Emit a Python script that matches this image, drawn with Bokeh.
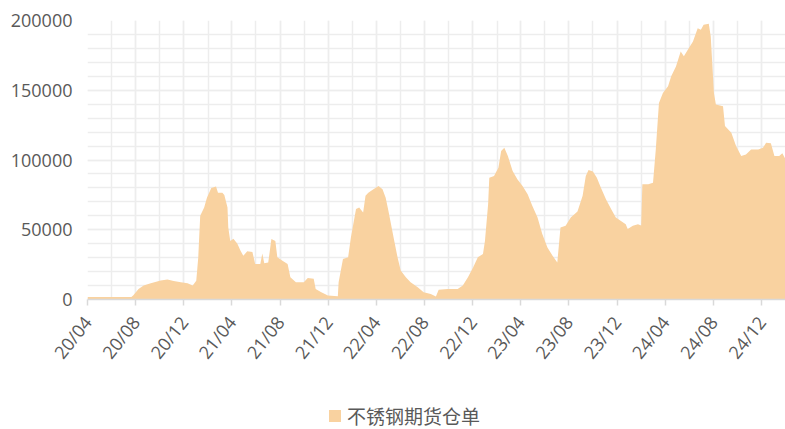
import pandas as pd
from bokeh.plotting import figure
from bokeh.layouts import column
from bokeh.models import (FixedTicker, SingleIntervalTicker, Range1d, Legend,
                          LegendItem, NumeralTickFormatter, ColumnDataSource)
from bokeh.embed import file_html
from bokeh.resources import INLINE

series_name = "不锈钢期货仓单"

dates = [
    "2020-04-01", "2020-07-21", "2020-07-26", "2020-08-08", "2020-08-21", "2020-09-08",
    "2020-10-03", "2020-10-20", "2020-11-05", "2020-11-23", "2020-12-10", "2020-12-23",
    "2021-01-01", "2021-01-06", "2021-01-11", "2021-01-21", "2021-01-28", "2021-02-08",
    "2021-02-20", "2021-02-25", "2021-03-08", "2021-03-13", "2021-03-21", "2021-03-23",
    "2021-03-28", "2021-04-05", "2021-04-15", "2021-04-23", "2021-04-30", "2021-05-10",
    "2021-05-23", "2021-05-30", "2021-06-12", "2021-06-17", "2021-06-22", "2021-07-02",
    "2021-07-10", "2021-07-20", "2021-07-25", "2021-08-07", "2021-08-20", "2021-08-27",
    "2021-09-10", "2021-09-30", "2021-10-10", "2021-10-25", "2021-10-30", "2021-11-12",
    "2021-11-30", "2021-12-25", "2021-12-27", "2022-01-07", "2022-01-20", "2022-01-27",
    "2022-02-09", "2022-02-17", "2022-02-27", "2022-03-05", "2022-03-12", "2022-03-25",
    "2022-04-07", "2022-04-17", "2022-04-25", "2022-05-02", "2022-05-15", "2022-05-25",
    "2022-06-02", "2022-06-15", "2022-06-27", "2022-07-15", "2022-07-30", "2022-08-17",
    "2022-08-30", "2022-09-06", "2022-09-29", "2022-10-24", "2022-11-06", "2022-11-19",
    "2022-12-02", "2022-12-14", "2022-12-27", "2023-01-01", "2023-01-09", "2023-01-12",
    "2023-01-24", "2023-02-04", "2023-02-11", "2023-02-19", "2023-02-28", "2023-03-12",
    "2023-03-24", "2023-04-06", "2023-04-19", "2023-05-01", "2023-05-14", "2023-05-26",
    "2023-06-08", "2023-06-21", "2023-07-03", "2023-07-11", "2023-07-24", "2023-08-06",
    "2023-08-23", "2023-09-05", "2023-09-13", "2023-09-20", "2023-10-01", "2023-10-11",
    "2023-10-21", "2023-11-03", "2023-11-16", "2023-11-28", "2023-12-10", "2023-12-23",
    "2023-12-28", "2024-01-10", "2024-01-23", "2024-01-31", "2024-02-03", "2024-02-18",
    "2024-03-01", "2024-03-08", "2024-03-16", "2024-03-26", "2024-04-08", "2024-04-16",
    "2024-04-28", "2024-05-10", "2024-05-18", "2024-05-28", "2024-06-10", "2024-06-22",
    "2024-06-30", "2024-07-07", "2024-07-20", "2024-07-25", "2024-08-02", "2024-08-07",
    "2024-08-25", "2024-08-30", "2024-09-15", "2024-09-27", "2024-10-10", "2024-10-22",
    "2024-11-04", "2024-11-22", "2024-12-04", "2024-12-12", "2024-12-24", "2025-01-02",
    "2025-01-14", "2025-01-22", "2025-01-30",
]

values = [
    1800, 1800, 3000, 7600, 10000, 11600,
    13600, 14300, 13200, 12400, 11600, 10000,
    13500, 30000, 60000, 66000, 73000, 80000,
    81000, 76600, 76600, 75000, 66000, 51600,
    42000, 43500, 40000, 35000, 31400, 34500,
    34000, 25500, 25500, 33000, 26000, 26500,
    43300, 42000, 30200, 27800, 25500, 16000,
    12400, 12400, 15500, 14800, 7600, 5300,
    2900, 2400, 12400, 29000, 30200, 44500,
    64800, 66000, 62300, 74300, 76600, 79000,
    81400, 79000, 73000, 63500, 44500, 30200,
    20700, 16000, 12400, 8800, 5200, 4000,
    2100, 6900, 7600, 7600, 10000, 16000,
    23000, 30200, 32600, 42000, 68300, 87300,
    88500, 94400, 106400, 108800, 102800, 92100,
    86200, 81400, 75500, 67100, 58800, 46900,
    37300, 31400, 26600, 51600, 52800, 58800,
    63000, 74300, 88500, 92800, 91700, 87300,
    80200, 71900, 64800, 58800, 56400, 54000,
    50500, 52800, 54000, 53000, 82600, 82600,
    83700, 107600, 140900, 148000, 152800, 160000,
    167100, 177800, 174300, 179000, 185000, 194500,
    193300, 196900, 197600, 188600, 148000, 139700,
    138500, 124300, 119500, 110000, 102800, 104000,
    107600, 107600, 108800, 112400, 112000, 102800,
    102800, 104800, 100500,
]

tick_dates = ["2020-04-01", "2020-08-01", "2020-12-01", "2021-04-01", "2021-08-01",
              "2021-12-01", "2022-04-01", "2022-08-01", "2022-12-01", "2023-04-01",
              "2023-08-01", "2023-12-01", "2024-04-01", "2024-08-01", "2024-12-01"]
tick_labels = ["20/04", "20/08", "20/12", "21/04", "21/08", "21/12", "22/04", "22/08",
               "22/12", "23/04", "23/08", "23/12", "24/04", "24/08", "24/12"]

fill = "#F9D2A0"
label_color = "#595959"
grid_color = "#EDEDED"

src = ColumnDataSource(dict(x=pd.to_datetime(dates), y=values))

def ms(d):
    return float(pd.Timestamp(d).value // 10**6)

tick_ms = [ms(d) for d in tick_dates]
minor_ms = [ms(d) for d in pd.date_range("2020-04-01", "2025-01-01", freq="2MS")]

x_start = ms(dates[0])
x_end = ms(dates[-1])

p = figure(width=785, height=380, x_axis_type="datetime",
           x_range=Range1d(x_start, x_end), y_range=Range1d(0, 200000),
           output_backend="svg", toolbar_location=None,
           min_border_left=87, min_border_right=0, min_border_top=20,
           min_border_bottom=81)
p.outline_line_color = None
p.background_fill_color = "white"

p.varea(x="x", y1=0, y2="y", source=src, fill_color=fill, fill_alpha=1.0)

# x axis
p.xaxis.ticker = FixedTicker(ticks=tick_ms, minor_ticks=minor_ms)
p.xaxis.major_label_overrides = {t: l for t, l in zip(tick_ms, tick_labels)}
p.xaxis.major_label_orientation = 0.9
p.xaxis.axis_line_color = "#D9D9D9"
p.xaxis.axis_line_width = 1.5
p.xaxis.major_tick_line_color = "#D9D9D9"
p.xaxis.major_tick_line_width = 1.5
p.xaxis.major_tick_in = 0
p.xaxis.major_tick_out = 6
p.xaxis.minor_tick_line_color = None
p.xaxis.major_label_text_font = "Open Sans"
p.xaxis.major_label_text_font_size = "18px"
p.xaxis.major_label_text_color = label_color
p.xaxis.major_label_standoff = 13

# y axis
p.yaxis.ticker = SingleIntervalTicker(interval=50000, num_minor_ticks=5)
p.yaxis.formatter = NumeralTickFormatter(format="0")
p.yaxis.axis_line_color = None
p.yaxis.major_tick_line_color = None
p.yaxis.minor_tick_line_color = None
p.yaxis.major_label_text_font = "Open Sans"
p.yaxis.major_label_text_font_size = "18px"
p.yaxis.major_label_text_color = label_color
p.yaxis.major_label_standoff = 9

# grids
p.xgrid.ticker = FixedTicker(ticks=tick_ms, minor_ticks=minor_ms)
p.xgrid.grid_line_color = grid_color
p.xgrid.grid_line_width = 1.5
p.xgrid.minor_grid_line_color = grid_color
p.xgrid.minor_grid_line_width = 1.5
p.ygrid.grid_line_color = grid_color
p.ygrid.grid_line_width = 1.5
p.ygrid.minor_grid_line_color = grid_color
p.ygrid.minor_grid_line_width = 1.5

# legend strip below the chart (series drawn off-view so only its legend shows)
pl = figure(width=785, height=49, x_range=Range1d(0, 1), y_range=Range1d(0, 1),
            output_backend="svg", toolbar_location=None,
            min_border=0, x_axis_location=None, y_axis_location=None)
pl.outline_line_color = None
pl.xgrid.visible = False
pl.ygrid.visible = False
sw = pl.varea(x="x", y1=0, y2="y", source=src, fill_color=fill, fill_alpha=1.0)
lg = Legend(items=[LegendItem(label=series_name, renderers=[sw])],
            location=(240, 0), orientation="horizontal",
            background_fill_alpha=0, border_line_color=None,
            padding=0, margin=0, glyph_width=15, glyph_height=15,
            label_standoff=5, label_text_font="Noto Sans CJK SC",
            label_text_font_size="19px", label_text_color=label_color)
pl.add_layout(lg, "center")

layout = column(p, pl, spacing=0)
open("out.html", "w").write(file_html(layout, INLINE))
